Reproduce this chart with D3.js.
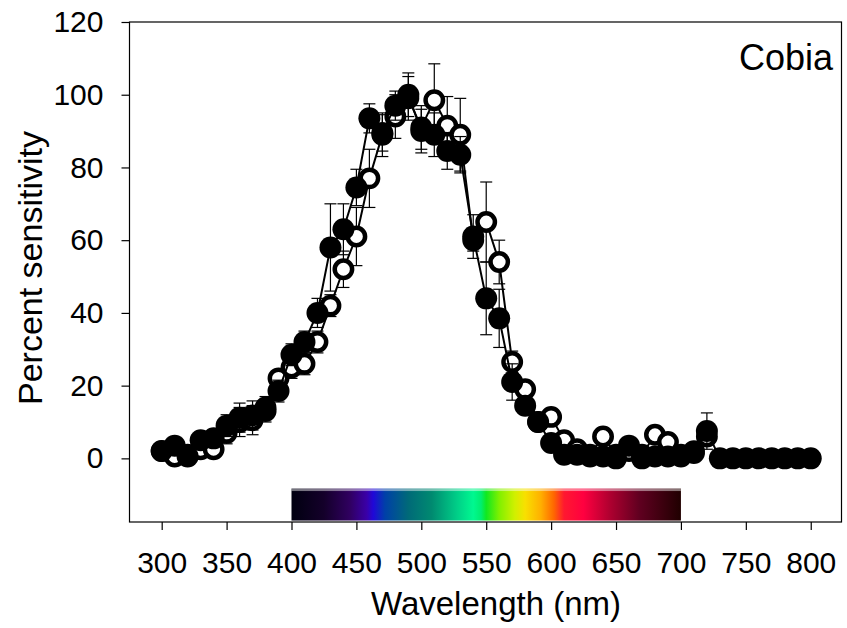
<!DOCTYPE html>
<html>
<head>
<meta charset="utf-8">
<script src="https://cdn.jsdelivr.net/npm/d3@7"></script>
<style>
  body { margin: 0; background: #fff; }
  svg { display: block; font-family: "Liberation Sans", Arial, sans-serif; }
</style>
</head>
<body>
<div id="chart"></div>
<script>
// wavelengths sampled every 10 nm
const wavelengths = d3.range(300, 810, 10);

// filled circles
const filledValues = [2, 3.5, 0.5, 5, 5.5, 9, 11.2, 11.8, 13, 18.5,
  28.5, 32, 40, 58, 63, 74.5, 93.5, 89.5, 97, 100,
  90, 89, 84.5, 83.5, 61, 44, 38.5, 21, 14.5, 10,
  4.2, 1, 1, 0.5, 0.5, 0, 3.5, 0, 0.5, 0.5,
  0.5, 1.5, 7.5, 0, 0, 0, 0, 0, 0, 0, 0];
const filledErrors = [0, 1, 0, 2, 2, 3, 4, 4, 3, 3,
  3, 3, 4, 12, 7, 5, 4, 5, 4, 6,
  6, 6, 5, 5, 6, 10, 8, 5, 2, 1,
  1, 0, 0, 0, 0, 0, 1, 0, 0, 0,
  0, 0, 5, 0, 0, 0, 0, 0, 0, 0, 0];

// open circles (no readings past 720 nm)
const openValues = [2, 0.5, 1, 2.5, 2.5, 7, 10, 10.5, 14, 22,
  25, 26, 32, 42, 52, 61, 77, 89, 94, 99,
  91, 98.5, 91.5, 89, 60, 65, 54, 26.5, 19, 10,
  11.4, 5, 2.5, 1, 6, 1, 2, 1, 6.5, 4.5,
  1, 2, 6];
const openErrors = [0, 0, 0, 1, 1, 3, 4, 4, 3, 2,
  3, 3, 3, 3, 5, 8, 8, 6, 6, 6,
  6, 10, 8, 10, 3, 11, 6, 3, 2, 1,
  1, 1, 0, 0, 1, 0, 0, 0, 2, 1,
  0, 0, 1];

// visible spectrum under the curves
const spectrumStops = [
  [400, "#000010"], [425, "#14002a"], [445, "#300060"], [458, "#3a00a8"],
  [463, "#2008d8"], [472, "#0040a8"], [490, "#006a78"], [508, "#008a70"],
  [528, "#00d088"], [540, "#00f890"], [546, "#00ee70"], [550, "#10e820"],
  [560, "#80f000"], [572, "#d0f000"], [580, "#f8e000"], [592, "#ffb000"],
  [602, "#ff6800"], [610, "#ff1830"], [625, "#ff0040"], [645, "#b00030"],
  [668, "#600020"], [700, "#200000"]
];

const xTicks = d3.range(300, 850, 50);
const yTicks = d3.range(0, 140, 20);

const width = 847, height = 628;
const plot = { left: 129.5, right: 841.5, top: 22, bottom: 522 };

const x = d3.scaleLinear().domain([275.2, 823.7]).range([plot.left, plot.right]);
const y = d3.scaleLinear().domain([-17.5, 120]).range([plot.bottom, plot.top]);

const svg = d3.select("#chart").append("svg")
  .attr("width", width)
  .attr("height", height);

// spectrum bar
const defs = svg.append("defs");
const grad = defs.append("linearGradient")
  .attr("id", "spectrum")
  .attr("gradientUnits", "userSpaceOnUse")
  .attr("x1", x(400)).attr("x2", x(700))
  .attr("y1", 0).attr("y2", 0);
grad.selectAll("stop")
  .data(spectrumStops)
  .join("stop")
  .attr("offset", d => (d[0] - 400) / 300)
  .attr("stop-color", d => d[1]);

const barTop = y(-8.3), barBottom = y(-17.1);
svg.append("rect")
  .attr("x", x(400))
  .attr("y", barTop)
  .attr("width", x(700) - x(400))
  .attr("height", barBottom - barTop)
  .attr("fill", "url(#spectrum)");
svg.append("rect")
  .attr("x", x(400))
  .attr("y", barTop)
  .attr("width", x(700) - x(400))
  .attr("height", 2.5)
  .attr("fill", "#fff")
  .attr("opacity", 0.45);

// frame
svg.append("rect")
  .attr("x", plot.left)
  .attr("y", plot.top)
  .attr("width", plot.right - plot.left)
  .attr("height", plot.bottom - plot.top)
  .attr("fill", "none")
  .attr("stroke", "#000")
  .attr("stroke-width", 1.2);

// axes
const xAxis = svg.append("g")
  .attr("transform", `translate(0,${plot.bottom})`)
  .call(d3.axisBottom(x).tickValues(xTicks).tickSize(8).tickPadding(22));
const yAxis = svg.append("g")
  .attr("transform", `translate(${plot.left},0)`)
  .call(d3.axisLeft(y).tickValues(yTicks).tickSize(8).tickPadding(18));

[xAxis, yAxis].forEach(g => {
  g.select(".domain").remove();
  g.selectAll(".tick line").attr("stroke", "#000").attr("stroke-width", 1.2);
  g.selectAll(".tick text")
    .attr("fill", "#000")
    .style("font-size", "30px")
    .style("font-family", "'Liberation Sans', Arial, sans-serif");
});

svg.append("text")
  .attr("x", 496)
  .attr("y", 615)
  .attr("text-anchor", "middle")
  .style("font-size", "33px")
  .text("Wavelength (nm)");

svg.append("text")
  .attr("transform", "translate(30,268) rotate(-90)")
  .attr("text-anchor", "middle")
  .attr("dy", "0.35em")
  .style("font-size", "34px")
  .text("Percent sensitivity");

svg.append("text")
  .attr("x", 833)
  .attr("y", 70)
  .attr("text-anchor", "end")
  .style("font-size", "36px")
  .text("Cobia");

// series
function drawSeries(values, errors, filled) {
  const pts = values.map((v, i) => ({ w: wavelengths[i], v: v, e: errors[i] }));
  const g = svg.append("g");

  g.append("path")
    .datum(pts)
    .attr("fill", "none")
    .attr("stroke", "#000")
    .attr("stroke-width", 2)
    .attr("d", d3.line().x(d => x(d.w)).y(d => y(d.v)));

  const eb = g.selectAll("g.err")
    .data(pts.filter(d => d.e > 0))
    .join("g")
    .attr("class", "err")
    .attr("stroke", "#000")
    .attr("stroke-width", 1.2);
  eb.append("line")
    .attr("x1", d => x(d.w)).attr("x2", d => x(d.w))
    .attr("y1", d => y(d.v - d.e)).attr("y2", d => y(d.v + d.e));
  eb.append("line")
    .attr("x1", d => x(d.w) - 6).attr("x2", d => x(d.w) + 6)
    .attr("y1", d => y(d.v + d.e)).attr("y2", d => y(d.v + d.e));
  eb.append("line")
    .attr("x1", d => x(d.w) - 6).attr("x2", d => x(d.w) + 6)
    .attr("y1", d => y(d.v - d.e)).attr("y2", d => y(d.v - d.e));

  g.selectAll("circle")
    .data(pts)
    .join("circle")
    .attr("cx", d => x(d.w))
    .attr("cy", d => y(d.v))
    .attr("r", filled ? 11 : 8.7)
    .attr("fill", filled ? "#000" : "#fff")
    .attr("stroke", "#000")
    .attr("stroke-width", filled ? 0 : 4.5);
}

drawSeries(openValues, openErrors, false);
drawSeries(filledValues, filledErrors, true);
</script>
</body>
</html>
